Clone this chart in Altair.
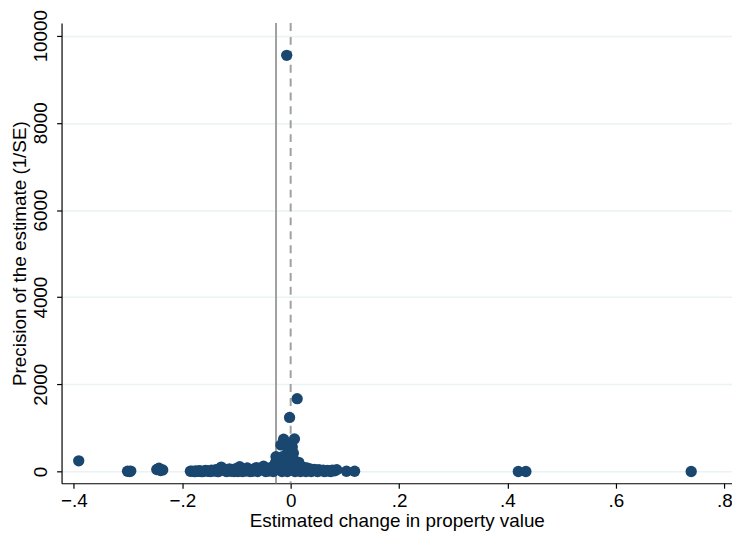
import altair as alt
import pandas as pd

# Estimated effects (x) and precision 1/SE (y)
effect = [
    -0.0073, 0.012, -0.002, -0.013, 0.007, -0.002, -0.018, -0.004, 0.003, -0.027,
    -0.391, -0.301, -0.297, -0.295, -0.247, -0.243, -0.236, -0.240,
    -0.185, -0.182, -0.178, -0.175, -0.170, -0.168, -0.165, -0.160, -0.157, -0.153,
    -0.150, -0.146, -0.142, -0.138, -0.135, -0.131, -0.128, -0.125, -0.120, -0.117,
    -0.113, -0.110, -0.106, -0.103, -0.100, -0.097, -0.094, -0.090, -0.087, -0.083,
    -0.080, -0.077, -0.073, -0.070, -0.067, -0.063, -0.060, -0.056, -0.053, -0.050,
    -0.047, -0.044, -0.040, -0.037, -0.034, -0.030, -0.028, -0.025, -0.022, -0.020,
    -0.018, -0.015, -0.013, -0.011, -0.009, -0.007, -0.005, 0.000, 0.001, 0.004,
    0.005, 0.010, 0.013, 0.016, 0.020, 0.023, 0.026, 0.030, 0.033, 0.036,
    0.040, 0.044, 0.048, 0.052, 0.056, 0.060, 0.064, 0.068, 0.072, 0.077,
    0.081, 0.085, 0.103, 0.118, 0.420, 0.434, 0.739,
    -0.176, -0.162, -0.148, -0.133, -0.118, -0.104, -0.089, -0.075, -0.061, -0.046,
    -0.032, -0.016, -0.006, 0.008, 0.018, 0.028, 0.038, 0.050, 0.062, 0.074,
    -0.024, -0.021, -0.017, -0.012, -0.010, -0.003, 0.002, 0.006, 0.011, 0.015,
]
precision = [
    9550, 1670, 1240, 740, 745, 610, 610, 450, 560, 340,
    245, 5, 0, 8, 45, 75, 35, 20,
    5, 10, 0, 15, 5, 20, 0, 10, 25, 5,
    15, 30, 10, 40, 0, 20, 100, 50, 10, 35,
    60, 5, 45, 20, 70, 0, 110, 30, 55, 10,
    80, 25, 40, 5, 60, 90, 15, 45, 70, 120,
    30, 55, 10, 85, 40, 140, 200, 320, 260, 100,
    180, 340, 230, 60, 290, 400, 530, 480, 250, 150,
    420, 120, 90, 140, 60, 100, 40, 80, 20, 60,
    35, 50, 10, 40, 20, 30, 5, 25, 10, 30,
    15, 40, 5, 5, 0, 0, 0,
    0, 0, 0, 0, 0, 0, 0, 0, 0, 0,
    0, 0, 0, 0, 0, 0, 0, 0, 0, 0,
    150, 210, 120, 170, 200, 300, 360, 260, 180, 210,
]
mean_effect = [-0.027]
zero_line = [0.0]

x_ticks = [-0.4, -0.2, 0.0, 0.2, 0.4, 0.6, 0.8]
y_ticks = [0, 2000, 4000, 6000, 8000, 10000]

df = pd.DataFrame({"effect": effect, "precision": precision})
FONT = "Liberation Sans"

xscale = alt.Scale(domain=[-0.4227, 0.8143], nice=False, zero=False)
yscale = alt.Scale(domain=[-270, 10290], nice=False, zero=False)

points = alt.Chart(df).mark_circle(size=130, opacity=1, color="#1a476f").encode(
    x=alt.X("effect:Q", scale=xscale,
            axis=alt.Axis(values=x_ticks, title="Estimated change in property value",
                          labelExpr="datum.value == 0 ? '0' : replace(format(datum.value, '.1f'), '0.', '.')",
                          grid=False, titlePadding=2, labelPadding=3)),
    y=alt.Y("precision:Q", scale=yscale,
            axis=alt.Axis(values=y_ticks, title="Precision of the estimate (1/SE)",
                          labelAngle=-90, format="d", grid=True,
                          gridColor="#EAF2F3", gridWidth=1.5, titlePadding=2,
                          labelPadding=6)),
)

mean_rule = alt.Chart(pd.DataFrame({"x": mean_effect})).mark_rule(
    color="#A0A0A0", strokeWidth=2
).encode(x=alt.X("x:Q", scale=xscale))

zero_rule = alt.Chart(pd.DataFrame({"x": zero_line})).mark_rule(
    color="#A0A0A0", strokeWidth=2, strokeDash=[8, 6]
).encode(x=alt.X("x:Q", scale=xscale))

chart = alt.layer(mean_rule, zero_rule, points).properties(
    width=676, height=464,
    autosize=alt.AutoSizeParams(type="none"),
    padding={"left": 54, "top": 13, "right": 0, "bottom": 48},
    background="white",
).configure_view(stroke=None).configure_axis(
    labelFont=FONT, titleFont=FONT, labelFontSize=19, titleFontSize=19,
    labelColor="black", titleColor="black", titleFontWeight="normal",
    domainColor="black", domainWidth=1.2, tickColor="black", tickSize=5,
    tickWidth=1.2,
)

chart.save("out.html", embed_options={"renderer": "svg", "actions": False})
